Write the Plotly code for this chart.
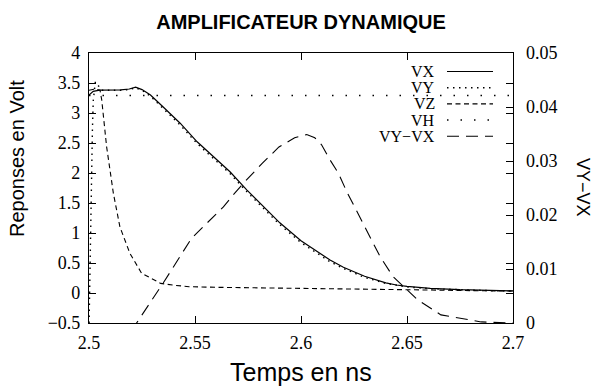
import plotly.graph_objects as go

# ---------------- data ----------------
t_vx = [2.500, 2.502, 2.505, 2.510, 2.515, 2.519, 2.522, 2.525, 2.529, 2.535,
        2.543, 2.551, 2.5586, 2.5665, 2.5744, 2.583, 2.590, 2.600, 2.607, 2.6137,
        2.620, 2.630, 2.640, 2.645, 2.650, 2.661, 2.675, 2.690, 2.700]
vx = [3.30, 3.36, 3.38, 3.38, 3.385, 3.40, 3.43, 3.39, 3.30, 3.10,
      2.83, 2.52, 2.27, 2.02, 1.72, 1.41, 1.17, 0.87, 0.70, 0.55,
      0.43, 0.28, 0.17, 0.133, 0.11, 0.078, 0.055, 0.040, 0.035]

t_vy = [2.500, 2.5005, 2.5013, 2.5016, 2.502, 2.503, 2.5045, 2.506, 2.515, 2.519,
        2.522, 2.525, 2.529, 2.535, 2.543, 2.551, 2.5586, 2.5665, 2.5744, 2.583,
        2.590, 2.600, 2.607, 2.6137, 2.620, 2.630, 2.640, 2.650, 2.661, 2.675,
        2.690, 2.700]
vy = [-0.60, 0.70, 1.90, 2.70, 3.20, 3.52, 3.45, 3.38, 3.38, 3.39,
      3.42, 3.38, 3.28, 3.08, 2.80, 2.49, 2.24, 1.99, 1.69, 1.38,
      1.14, 0.84, 0.67, 0.52, 0.41, 0.26, 0.16, 0.10, 0.072, 0.050,
      0.038, 0.033]

t_vz = [2.500, 2.503, 2.5052, 2.506, 2.5083, 2.5115, 2.5146, 2.5193, 2.5248, 2.532,
        2.5338, 2.540, 2.5472, 2.560, 2.580, 2.6137, 2.640, 2.660, 2.680, 2.700]
vz = [3.38, 3.40, 3.38, 3.22, 2.44, 1.66, 1.10, 0.66, 0.33, 0.19,
      0.16, 0.13, 0.105, 0.095, 0.088, 0.078, 0.065, 0.050, 0.040, 0.033]

t_vh = [2.500, 2.700]
vh = [3.29, 3.29]

t_diff = [2.515, 2.5225, 2.535, 2.5484, 2.5634, 2.568, 2.5743, 2.5818, 2.5896, 2.597,
          2.6027, 2.6065, 2.6097, 2.6137, 2.6177, 2.6216, 2.6302, 2.6373, 2.6434, 2.655,
          2.666, 2.685, 2.700]
vdiff = [-0.0044, 0.0, 0.0074, 0.0157, 0.0215, 0.0237, 0.0265, 0.0296, 0.0326, 0.0343,
         0.0349, 0.0343, 0.0330, 0.0302, 0.0277, 0.0243, 0.0178, 0.0123, 0.0086, 0.0043,
         0.0015, 0.0002, 0.0]

series_names = ["VX", "VY", "VZ", "VH", "VY\u2212VX"]

x_range = [2.5, 2.7]
x_ticks = [2.5, 2.55, 2.6, 2.65, 2.7]
x_ticktext = ["2.5", "2.55", "2.6", "2.65", "2.7"]
y_range = [-0.5, 4.0]
y_ticks = [-0.5, 0, 0.5, 1, 1.5, 2, 2.5, 3, 3.5, 4]
y_ticktext = ["\u22120.5", "0", "0.5", "1", "1.5", "2", "2.5", "3", "3.5", "4"]
y2_range = [0, 0.05]
y2_ticks = [0, 0.01, 0.02, 0.03, 0.04, 0.05]
y2_ticktext = ["0", "0.01", "0.02", "0.03", "0.04", "0.05"]

# ---------------- styles ----------------
dashes = ["solid", "1.5px,4.5px", "5px,3.5px", "1.5px,12px", "12px,7px"]
widths = [1.2, 1.4, 1.1, 1.5, 1.1]
SERIF = "Liberation Serif, Times New Roman, serif"
SANS = "Liberation Sans, Arial, sans-serif"

fig = go.Figure()
data = [(t_vx, vx, "y"), (t_vy, vy, "y"), (t_vz, vz, "y"), (t_vh, vh, "y"), (t_diff, vdiff, "y2")]
for (tt, vv, ax), name, d, w in zip(data, series_names, dashes, widths):
    fig.add_trace(go.Scatter(x=tt, y=vv, mode="lines", name=name, yaxis=ax,
                             line=dict(color="black", width=w, dash=d),
                             showlegend=False, cliponaxis=True))

W, H = 596, 387
L, R, T, B = 89, 83, 53, 64
pw, ph = W - L - R, H - T - B

def px(x):
    return (x - L) / pw

def py(y):
    return (H - B - y) / ph

# manual gnuplot-style legend (text right-aligned, sample on the right)
rows = [71.5, 87.7, 103.9, 120.1, 136.3]
annotations = []
shapes = []
for name, d, w, yr in zip(series_names, dashes, widths, rows):
    annotations.append(dict(x=px(436), y=py(yr), xref="paper", yref="paper",
                            text=name, showarrow=False, xanchor="right", yanchor="middle",
                            borderpad=0,
                            font=dict(family=SERIF, size=16, color="black")))
    shapes.append(dict(type="line", xref="paper", yref="paper",
                       x0=px(447), x1=px(493), y0=py(yr), y1=py(yr),
                       line=dict(color="black", width=w, dash=d)))

# axis titles
annotations.append(dict(x=px(301), y=py(372), xref="paper", yref="paper",
                        text="Temps en ns", showarrow=False, xanchor="center", yanchor="middle",
                        font=dict(family=SANS, size=25, color="black")))
annotations.append(dict(x=px(17), y=py(159), xref="paper", yref="paper",
                        text="Reponses en Volt", showarrow=False, textangle=-90,
                        xanchor="center", yanchor="middle",
                        font=dict(family=SANS, size=20, color="black")))
annotations.append(dict(x=px(583), y=py(187), xref="paper", yref="paper",
                        text="VY\u2212VX", showarrow=False, textangle=90,
                        xanchor="center", yanchor="middle",
                        font=dict(family=SANS, size=18, color="black")))

fig.update_layout(
    width=W, height=H,
    margin=dict(l=L, r=R, t=T, b=B, autoexpand=False),
    paper_bgcolor="white", plot_bgcolor="white",
    title=dict(text="<b>AMPLIFICATEUR DYNAMIQUE</b>", x=301 / W,
               xanchor="center", y=1 - 21.5 / H, yanchor="middle",
               font=dict(family=SANS, size=20, color="black")),
    xaxis=dict(range=x_range, tickvals=x_ticks, ticktext=x_ticktext,
               ticks="inside", ticklen=7, tickwidth=1, tickcolor="black",
               showline=True, linecolor="black", linewidth=1.2, mirror="ticks",
               showgrid=False, zeroline=False, ticklabelstandoff=3,
               tickfont=dict(family=SERIF, size=18, color="black")),
    yaxis=dict(range=y_range, tickvals=y_ticks, ticktext=y_ticktext,
               ticks="inside", ticklen=7, tickwidth=1, tickcolor="black",
               showline=True, linecolor="black", linewidth=1.2, mirror="ticks",
               showgrid=False, zeroline=False, ticklabelstandoff=4,
               tickfont=dict(family=SERIF, size=18, color="black")),
    yaxis2=dict(range=y2_range, tickvals=y2_ticks, ticktext=y2_ticktext,
                overlaying="y", side="right",
                ticks="inside", ticklen=7, tickwidth=1, tickcolor="black",
                showline=False, showgrid=False, zeroline=False, ticklabelstandoff=12,
                tickfont=dict(family=SERIF, size=18, color="black")),
    annotations=annotations,
    shapes=shapes,
    showlegend=False,
)

fig.write_html("out.html")
